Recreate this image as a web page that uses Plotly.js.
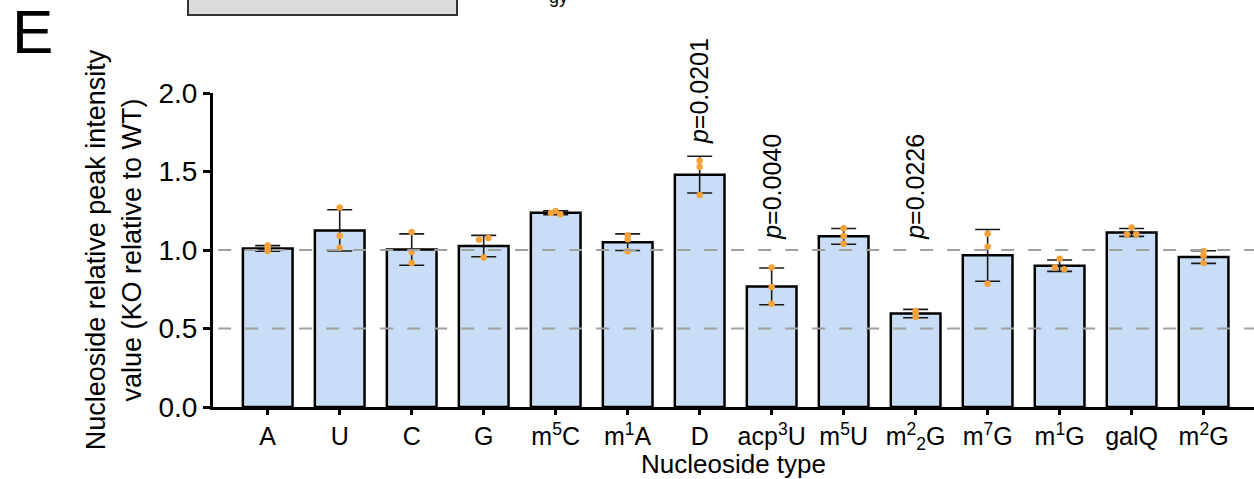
<!DOCTYPE html>
<html>
<head>
<meta charset="utf-8">
<script src="https://cdn.plot.ly/plotly-3.0.1.min.js"></script>
<style>html,body{margin:0;padding:0;background:#fff;}#chart{width:1254px;height:479px;}</style>
</head>
<body>
<div id="chart"></div>
<script>
// ---- data ----
const categories = ['A','U','C','G','m<sup>5</sup>C','m<sup>1</sup>A','D','acp<sup>3</sup>U','m<sup>5</sup>U','m<sup>2</sup><sub>2</sub>G','m<sup>7</sup>G','m<sup>1</sup>G','galQ','m<sup>2</sup>G'];
const means = [1.010, 1.125, 1.003, 1.025, 1.237, 1.050, 1.480, 0.768, 1.087, 0.595, 0.966, 0.900, 1.112, 0.955];
const sds   = [0.018, 0.131, 0.100, 0.068, 0.012, 0.053, 0.117, 0.117, 0.050, 0.027, 0.165, 0.036, 0.025, 0.040];
const replicates = [
  [1.028, 1.013, 0.993],
  [1.270, 1.090, 1.015],
  [1.115, 0.987, 0.917],
  [1.066, 1.077, 0.953],
  [1.249, 1.235, 1.228],
  [1.094, 1.068, 0.992],
  [1.569, 1.530, 1.350],
  [0.889, 0.764, 0.657],
  [1.139, 1.089, 1.040],
  [0.612, 0.598, 0.574],
  [1.104, 1.021, 0.785],
  [0.944, 0.889, 0.877],
  [1.143, 1.100, 1.100],
  [0.994, 0.964, 0.917]
];
const pLabels = [
  {cat: 6, text: '<i>p</i>=0.0201'},
  {cat: 7, text: '<i>p</i>=0.0040'},
  {cat: 9, text: '<i>p</i>=0.0226'}
];
const refLines = [0.5, 1.0];

// ---- geometry helpers ----
const W = 1254, H = 479;
const M = {l: 213, r: 0, t: 93, b: 72};
const pw = W - M.l - M.r, ph = H - M.t - M.b;
const pxX = p => (p - M.l) / pw;
const pxY = p => (H - M.b - p) / ph;

const xs = categories.map((c, i) => i);

// points: spread near-identical values side by side
const ptX = [], ptY = [];
replicates.forEach((vals, i) => {
  vals.forEach((v, j) => {
    let partner = -1;
    vals.forEach((w, k) => { if (k !== j && Math.abs(w - v) < 0.014) partner = k; });
    let off = 0;
    if (partner >= 0) off = (j < partner) ? -0.065 : 0.065;
    ptX.push(i + off); ptY.push(v);
  });
});

const bars = {
  type: 'bar', x: xs, y: means, width: 0.69,
  marker: {color: '#c9ddf6', line: {color: '#000', width: 2.5}},
  error_y: {type: 'data', array: sds, visible: true, color: '#1a1a1a', thickness: 1.6, width: 12.5},
  hoverinfo: 'skip', showlegend: false
};
const pts = {
  type: 'scatter', mode: 'markers', x: ptX, y: ptY,
  marker: {color: '#f6a23c', size: 6.5}, cliponaxis: false,
  hoverinfo: 'skip', showlegend: false
};

const shapes = refLines.map(v => ({
  type: 'line', xref: 'paper', yref: 'y', x0: 0.005, x1: 1, y0: v, y1: v,
  line: {color: '#a0a0a0', width: 2, dash: '13px,14px'}, layer: 'above'
}));
shapes.push({type: 'rect', xref: 'paper', yref: 'paper', x0: pxX(188), x1: pxX(457), y0: pxY(15), y1: pxY(-20),
  fillcolor: '#dcdcdc', line: {color: '#333', width: 2}, layer: 'above'});

const font = 'Liberation Sans, Arial, sans-serif';
const annotations = pLabels.map(p => ({
  x: p.cat, y: (p.cat === 6 ? 1.66 : 1.05), xref: 'x', yref: 'y',
  text: p.text, textangle: -90, showarrow: false, xanchor: 'center', yanchor: 'bottom',
  font: {family: font, size: 25, color: '#000'}
}));
annotations.push({x: pxX(10), y: pxY(68), xref: 'paper', yref: 'paper', xanchor: 'left', yanchor: 'bottom',
  text: 'E', showarrow: false, font: {family: font, size: 62, color: '#000'}});
annotations.push({x: pxX(558), y: pxY(-3), xref: 'paper', yref: 'paper', xanchor: 'center', yanchor: 'middle',
  text: 'gy', showarrow: false, font: {family: font, size: 18, color: '#000'}});

const layout = {
  width: W, height: H,
  margin: M,
  paper_bgcolor: '#fff', plot_bgcolor: '#fff',
  font: {family: font, color: '#000'},
  xaxis: {
    range: [-0.76, 13.7], tickvals: xs, ticktext: categories,
    showgrid: false, zeroline: false,
    showline: true, linecolor: '#000', linewidth: 3,
    ticks: 'outside', ticklen: 5, tickwidth: 3, tickcolor: '#000',
    tickfont: {size: 25, family: font},
    title: {text: 'Nucleoside type', font: {size: 26, family: font}, standoff: 3},
    automargin: false
  },
  yaxis: {
    range: [0, 2.0], tickvals: [0, 0.5, 1.0, 1.5, 2.0], ticktext: ['0.0','0.5','1.0','1.5','2.0'],
    showgrid: false, zeroline: false,
    showline: true, linecolor: '#000', linewidth: 3,
    ticks: 'outside', ticklen: 7, tickwidth: 3, tickcolor: '#000',
    tickfont: {size: 28, family: font},
    title: {text: 'Nucleoside relative peak intensity<br>value (KO relative to WT)', font: {size: 27, family: font}, standoff: 10},
    automargin: false
  },
  shapes: shapes,
  annotations: annotations
};

Plotly.newPlot('chart', [bars, pts], layout, {displayModeBar: false, staticPlot: true});
</script>
</body>
</html>
